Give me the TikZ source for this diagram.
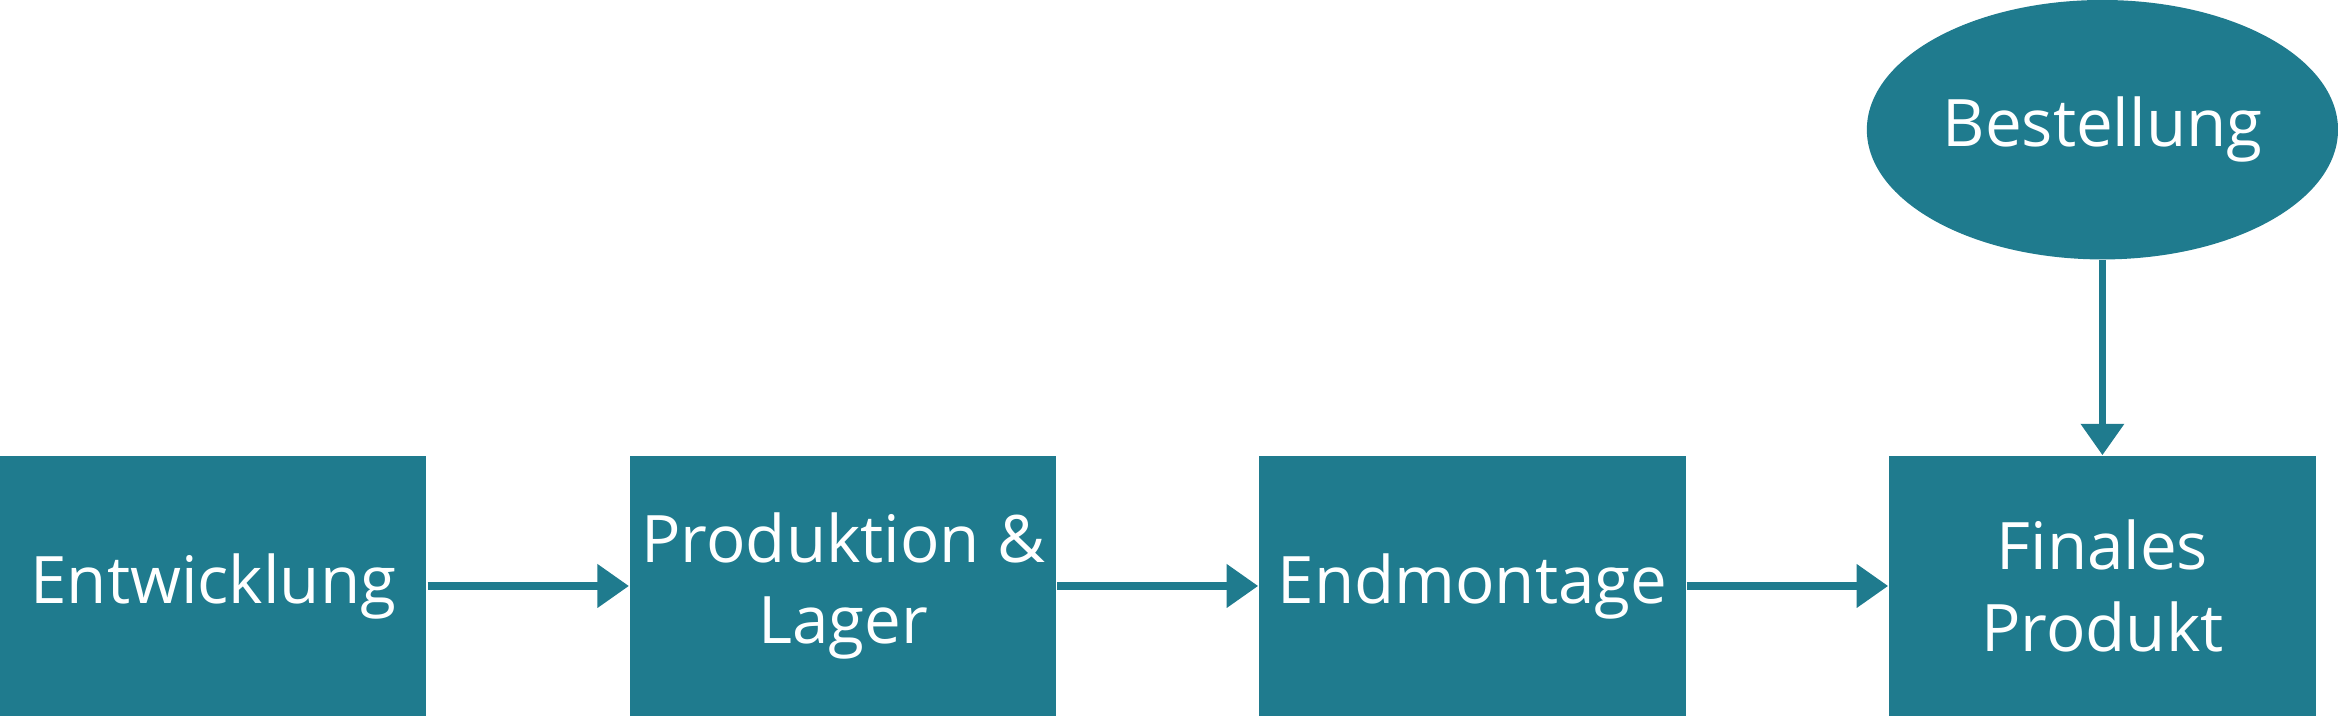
\documentclass[tikz,border=0pt]{standalone}
\usepackage{fontspec}
\setmainfont{Open Sans}
\usetikzlibrary{shapes.geometric,arrows.meta}
\definecolor{teal}{HTML}{1F7B8E}
\tikzset{
  procbox/.style={fill=teal,minimum width=2.86cm,minimum height=1.74cm,inner sep=0pt,
    text=white,align=center,font=\fontsize{12.5}{15.5}\selectfont},
  flow/.style={draw=teal,line width=1.4pt,-{Triangle[length=6pt,width=8pt]}}
}
\begin{document}
\begin{tikzpicture}
\useasboundingbox (0,0) rectangle (15.68,-4.80);
\node[procbox] (dev) at (1.43,-3.93) {Entwicklung};
\node[procbox] (prod) at (5.655,-3.93) {Produktion \&\\Lager};
\node[procbox] (asm) at (9.875,-3.93) {Endmontage};
\node[procbox] (fin) at (14.10,-3.93) {Finales\\Produkt};
\node[ellipse,fill=teal,minimum width=3.16cm,minimum height=1.74cm,inner sep=0pt,
  text=white,font=\fontsize{12.5}{15.5}\selectfont] (order) at (14.10,-0.87) {Bestellung};
\draw[flow] (dev) -- (prod);
\draw[flow] (prod) -- (asm);
\draw[flow] (asm) -- (fin);
\draw[flow] (order) -- (fin);
\end{tikzpicture}
\end{document}
